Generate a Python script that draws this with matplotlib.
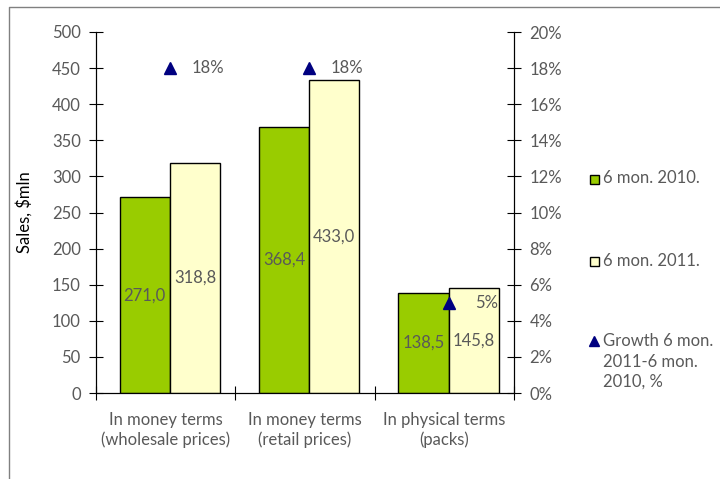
import matplotlib
matplotlib.use("Agg")
import matplotlib.pyplot as plt
from matplotlib.lines import Line2D
from matplotlib.patches import Rectangle
import numpy as np

plt.rcParams['font.family'] = ['Liberation Sans Narrow', 'Lato', 'DejaVu Sans']

categories = ["In money terms\n(wholesale prices)", "In money terms\n(retail prices)", "In physical terms\n(packs)"]
sales_2010 = [271.0, 368.4, 138.5]
sales_2011 = [318.8, 433.0, 145.8]
growth = [18, 18, 5]
growth_labels = ["18%", "18%", "5%"]
series_names = ["6 mon. 2010.", "6 mon. 2011.", "Growth 6 mon.\n2011-6 mon.\n2010, %"]

GREEN = "#99CC00"
YELLOW = "#FFFFCC"
NAVY = "#000080"
TXT = "#595959"
FS = 12

fig = plt.figure(figsize=(7.2, 4.79), dpi=100)
ax = fig.add_axes([96/720, 1-393/479, (514-96)/720, (393-32)/479])
ax2 = ax.twinx()

x = np.arange(len(categories))
w = 0.36
ax.bar(x - w/2 + 0.03, sales_2010, w, color=GREEN, edgecolor="black", linewidth=1, zorder=2)
ax.bar(x + w/2 + 0.03, sales_2011, w, color=YELLOW, edgecolor="black", linewidth=1, zorder=2)
for xi, v in zip(x - w/2 + 0.03, sales_2010):
    ax.text(xi, v/2, f"{v:.1f}".replace(".", ","), ha="center", va="center", fontsize=FS, color=TXT, zorder=3)
for xi, v in zip(x + w/2 + 0.03, sales_2011):
    ax.text(xi, v/2, f"{v:.1f}".replace(".", ","), ha="center", va="center", fontsize=FS, color=TXT, zorder=3)

ax.set_xlim(-0.5, 2.5)
ax.set_ylim(0, 500)
ax.set_yticks(np.arange(0, 501, 50))
ax.set_xticks([-0.5, 0.5, 1.5, 2.5])
ax.set_xticklabels([])
ax.set_xticks(x, minor=True)
ax.set_xticklabels(categories, minor=True, fontsize=FS, color=TXT, linespacing=1.25)
ax.tick_params(axis="x", which="minor", length=0, pad=14)
ax.tick_params(axis="x", which="major", direction="inout", length=10, color="black")
ax.tick_params(axis="y", direction="inout", length=10, labelsize=FS, labelcolor=TXT, pad=6)
ax.set_ylabel("Sales, $mln", fontsize=FS, color="black", labelpad=14)
ax.spines["top"].set_visible(False)
ax.set_zorder(ax2.get_zorder() + 1)
ax.patch.set_visible(False)

ax2.set_ylim(0, 20)
ax2.set_yticks(np.arange(0, 21, 2))
ax2.set_yticklabels([f"{t}%" for t in range(0, 21, 2)])
ax2.tick_params(axis="y", direction="inout", length=10, labelsize=FS, labelcolor=TXT, pad=6)
ax2.spines["top"].set_visible(False)

ax.plot(x + 0.03, [g * 25 for g in growth], linestyle="none", marker="^", markersize=9, color=NAVY, zorder=4)
for xi, g, lab in zip(x + 0.03, growth, growth_labels):
    ax.text(xi + 0.27, g * 25, lab, ha="center", va="center", fontsize=FS, color=TXT, zorder=4)

# legend (manual)
fig.add_artist(Rectangle((590/720, 1-184/479), 9/720, 9/479, transform=fig.transFigure,
                         facecolor=GREEN, edgecolor="black", linewidth=1))
fig.text(603/720, 1-178/479, series_names[0], fontsize=FS, color=TXT, va="center")
fig.add_artist(Rectangle((590/720, 1-266/479), 9/720, 9/479, transform=fig.transFigure,
                         facecolor=YELLOW, edgecolor="black", linewidth=1))
fig.text(603/720, 1-261/479, series_names[1], fontsize=FS, color=TXT, va="center")
fig.add_artist(Line2D([594/720], [1-341/479], transform=fig.transFigure, marker="^",
                      markersize=7, color=NAVY, linestyle="none"))
fig.text(603/720, 1-333/479, series_names[2], fontsize=FS, color=TXT, va="top", linespacing=1.35)

# chart border
fig.add_artist(Line2D([9/720, 9/720, 1], [0, 1-7/479, 1-7/479], transform=fig.transFigure,
                      color="#808080", linewidth=1))

fig.savefig("out.png", dpi=100)
